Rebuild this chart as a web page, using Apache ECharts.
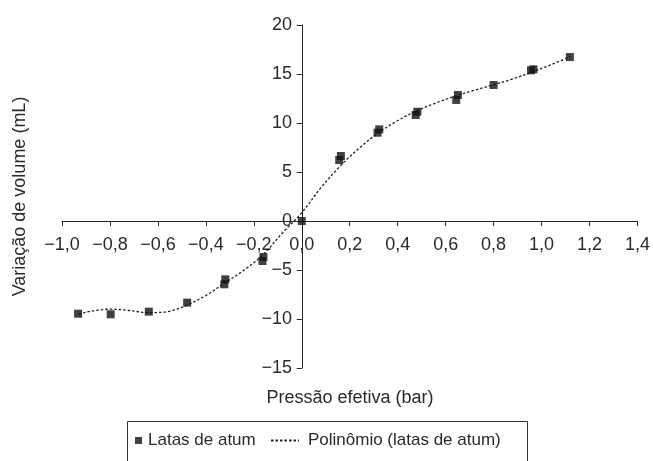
<!DOCTYPE html>
<html>
<head>
<meta charset="utf-8">
<script src="https://cdn.jsdelivr.net/npm/echarts@6/dist/echarts.min.js"></script>
<style>
html,body{margin:0;padding:0;background:#fff;}
#chart{width:653px;height:461px;}
</style>
</head>
<body>
<div id="chart"></div>
<script>
// Measured points (pressure in bar, volume change in mL)
var pressure = [-0.933, -0.797, -0.638, -0.478, -0.319, -0.323, -0.160, -0.164, 0.0, 0.163, 0.156, 0.323, 0.316, 0.482, 0.475, 0.651, 0.644, 0.80, 0.966, 0.956, 1.118];
var volume   = [-9.46, -9.52, -9.25, -8.33, -5.95, -6.46, -3.67, -4.08, 0.0, 6.63, 6.22, 9.35, 9.01, 11.15, 10.82, 12.86, 12.35, 13.88, 15.48, 15.38, 16.73];

// Polynomial trendline
var trendX = [-0.93, -0.90, -0.85, -0.80, -0.73, -0.64, -0.56, -0.48, -0.40, -0.32, -0.24, -0.16, -0.08, 0.0, 0.08, 0.16, 0.24, 0.32, 0.40, 0.48, 0.56, 0.64, 0.72, 0.80, 0.88, 0.96, 1.04, 1.12];
var trendY = [-9.55, -9.3, -9.1, -9.0, -9.1, -9.35, -9.25, -8.6, -7.6, -6.3, -5.0, -3.4, -1.2, 0.85, 3.4, 5.6, 7.45, 9.0, 10.25, 11.25, 12.05, 12.75, 13.35, 13.9, 14.5, 15.2, 15.95, 16.8];

var xTicks = {min: -1.0, max: 1.4, step: 0.2};
var yTicks = {min: -15, max: 20, step: 5};

var seriesNames = ['Latas de atum', 'Polinômio (latas de atum)'];
var xTitle = 'Pressão efetiva (bar)';
var yTitle = 'Variação de volume (mL)';

var FONT = '"Liberation Sans", Arial, sans-serif';
var TXT = '#2a2a2a';

function fmtX(v){ return v.toFixed(1).replace('.', ',').replace('-', '\u2212'); }
function fmtY(v){ return String(Math.round(v)).replace('-', '\u2212'); }

var scatterData = pressure.map(function(p, i){ return [p, volume[i]]; });
var trendData = trendX.map(function(p, i){ return [p, trendY[i]]; });

var chart = echarts.init(document.getElementById('chart'), null, {renderer: 'canvas'});
chart.setOption({
  animation: false,
  backgroundColor: '#fff',
  textStyle: {fontFamily: FONT, color: TXT},
  grid: {left: 62, right: 14.6, top: 25, bottom: 93, containLabel: false},
  xAxis: {
    type: 'value', min: xTicks.min, max: xTicks.max, interval: xTicks.step,
    axisLine: {onZero: true, lineStyle: {color: '#222', width: 1}},
    axisTick: {show: true, length: 5, lineStyle: {color: '#222'}},
    axisLabel: {formatter: fmtX, fontSize: 18, color: TXT, fontFamily: FONT, margin: -132},
    splitLine: {show: false}
  },
  yAxis: {
    type: 'value', min: yTicks.min, max: yTicks.max, interval: yTicks.step,
    axisLine: {show: true, onZero: true, lineStyle: {color: '#222', width: 1}},
    axisTick: {show: true, length: 5, lineStyle: {color: '#222'}},
    axisLabel: {formatter: fmtY, fontSize: 18, color: TXT, fontFamily: FONT, margin: -230},
    splitLine: {show: false}
  },
  legend: [
    {
      data: [seriesNames[0]], left: 135, top: 432, itemWidth: 7, itemHeight: 7, itemGap: 0,
      padding: 0, icon: 'rect',
      textStyle: {fontSize: 17, color: TXT, fontFamily: FONT, padding: [0, 0, 0, 1]}
    },
    {
      data: [seriesNames[1]], left: 270, top: 432, itemWidth: 28, itemHeight: 7, itemGap: 0,
      padding: 0,
      itemStyle: {color: 'rgba(0,0,0,0)', borderWidth: 0, opacity: 0},
      textStyle: {fontSize: 17, color: TXT, fontFamily: FONT, padding: [0, 0, 0, 4]}
    }
  ],
  graphic: [
    {type: 'rect', shape: {x: 127.5, y: 421.5, width: 400, height: 60},
     style: {fill: 'none', stroke: '#333', lineWidth: 1}, silent: true},
    {type: 'text', x: 350, y: 398, style: {text: xTitle, fontSize: 18, fontFamily: FONT, fill: TXT, align: 'center', verticalAlign: 'middle'}},
    {type: 'text', x: 20, y: 196.5, rotation: Math.PI / 2,
     style: {text: yTitle, fontSize: 18, fontFamily: FONT, fill: TXT, align: 'center', verticalAlign: 'middle'}}
  ],
  series: [
    {
      name: seriesNames[1], type: 'line', data: trendData, smooth: 0.35,
      symbol: 'none', showSymbol: false, z: 2,
      lineStyle: {color: '#222', width: 1.3, type: [2.5, 2]},
      itemStyle: {color: '#222'}
    },
    {
      name: seriesNames[0], type: 'scatter', data: scatterData,
      symbol: 'rect', symbolSize: 8, z: 3,
      itemStyle: {color: '#111'}
    }
  ]
});
</script>
</body>
</html>
